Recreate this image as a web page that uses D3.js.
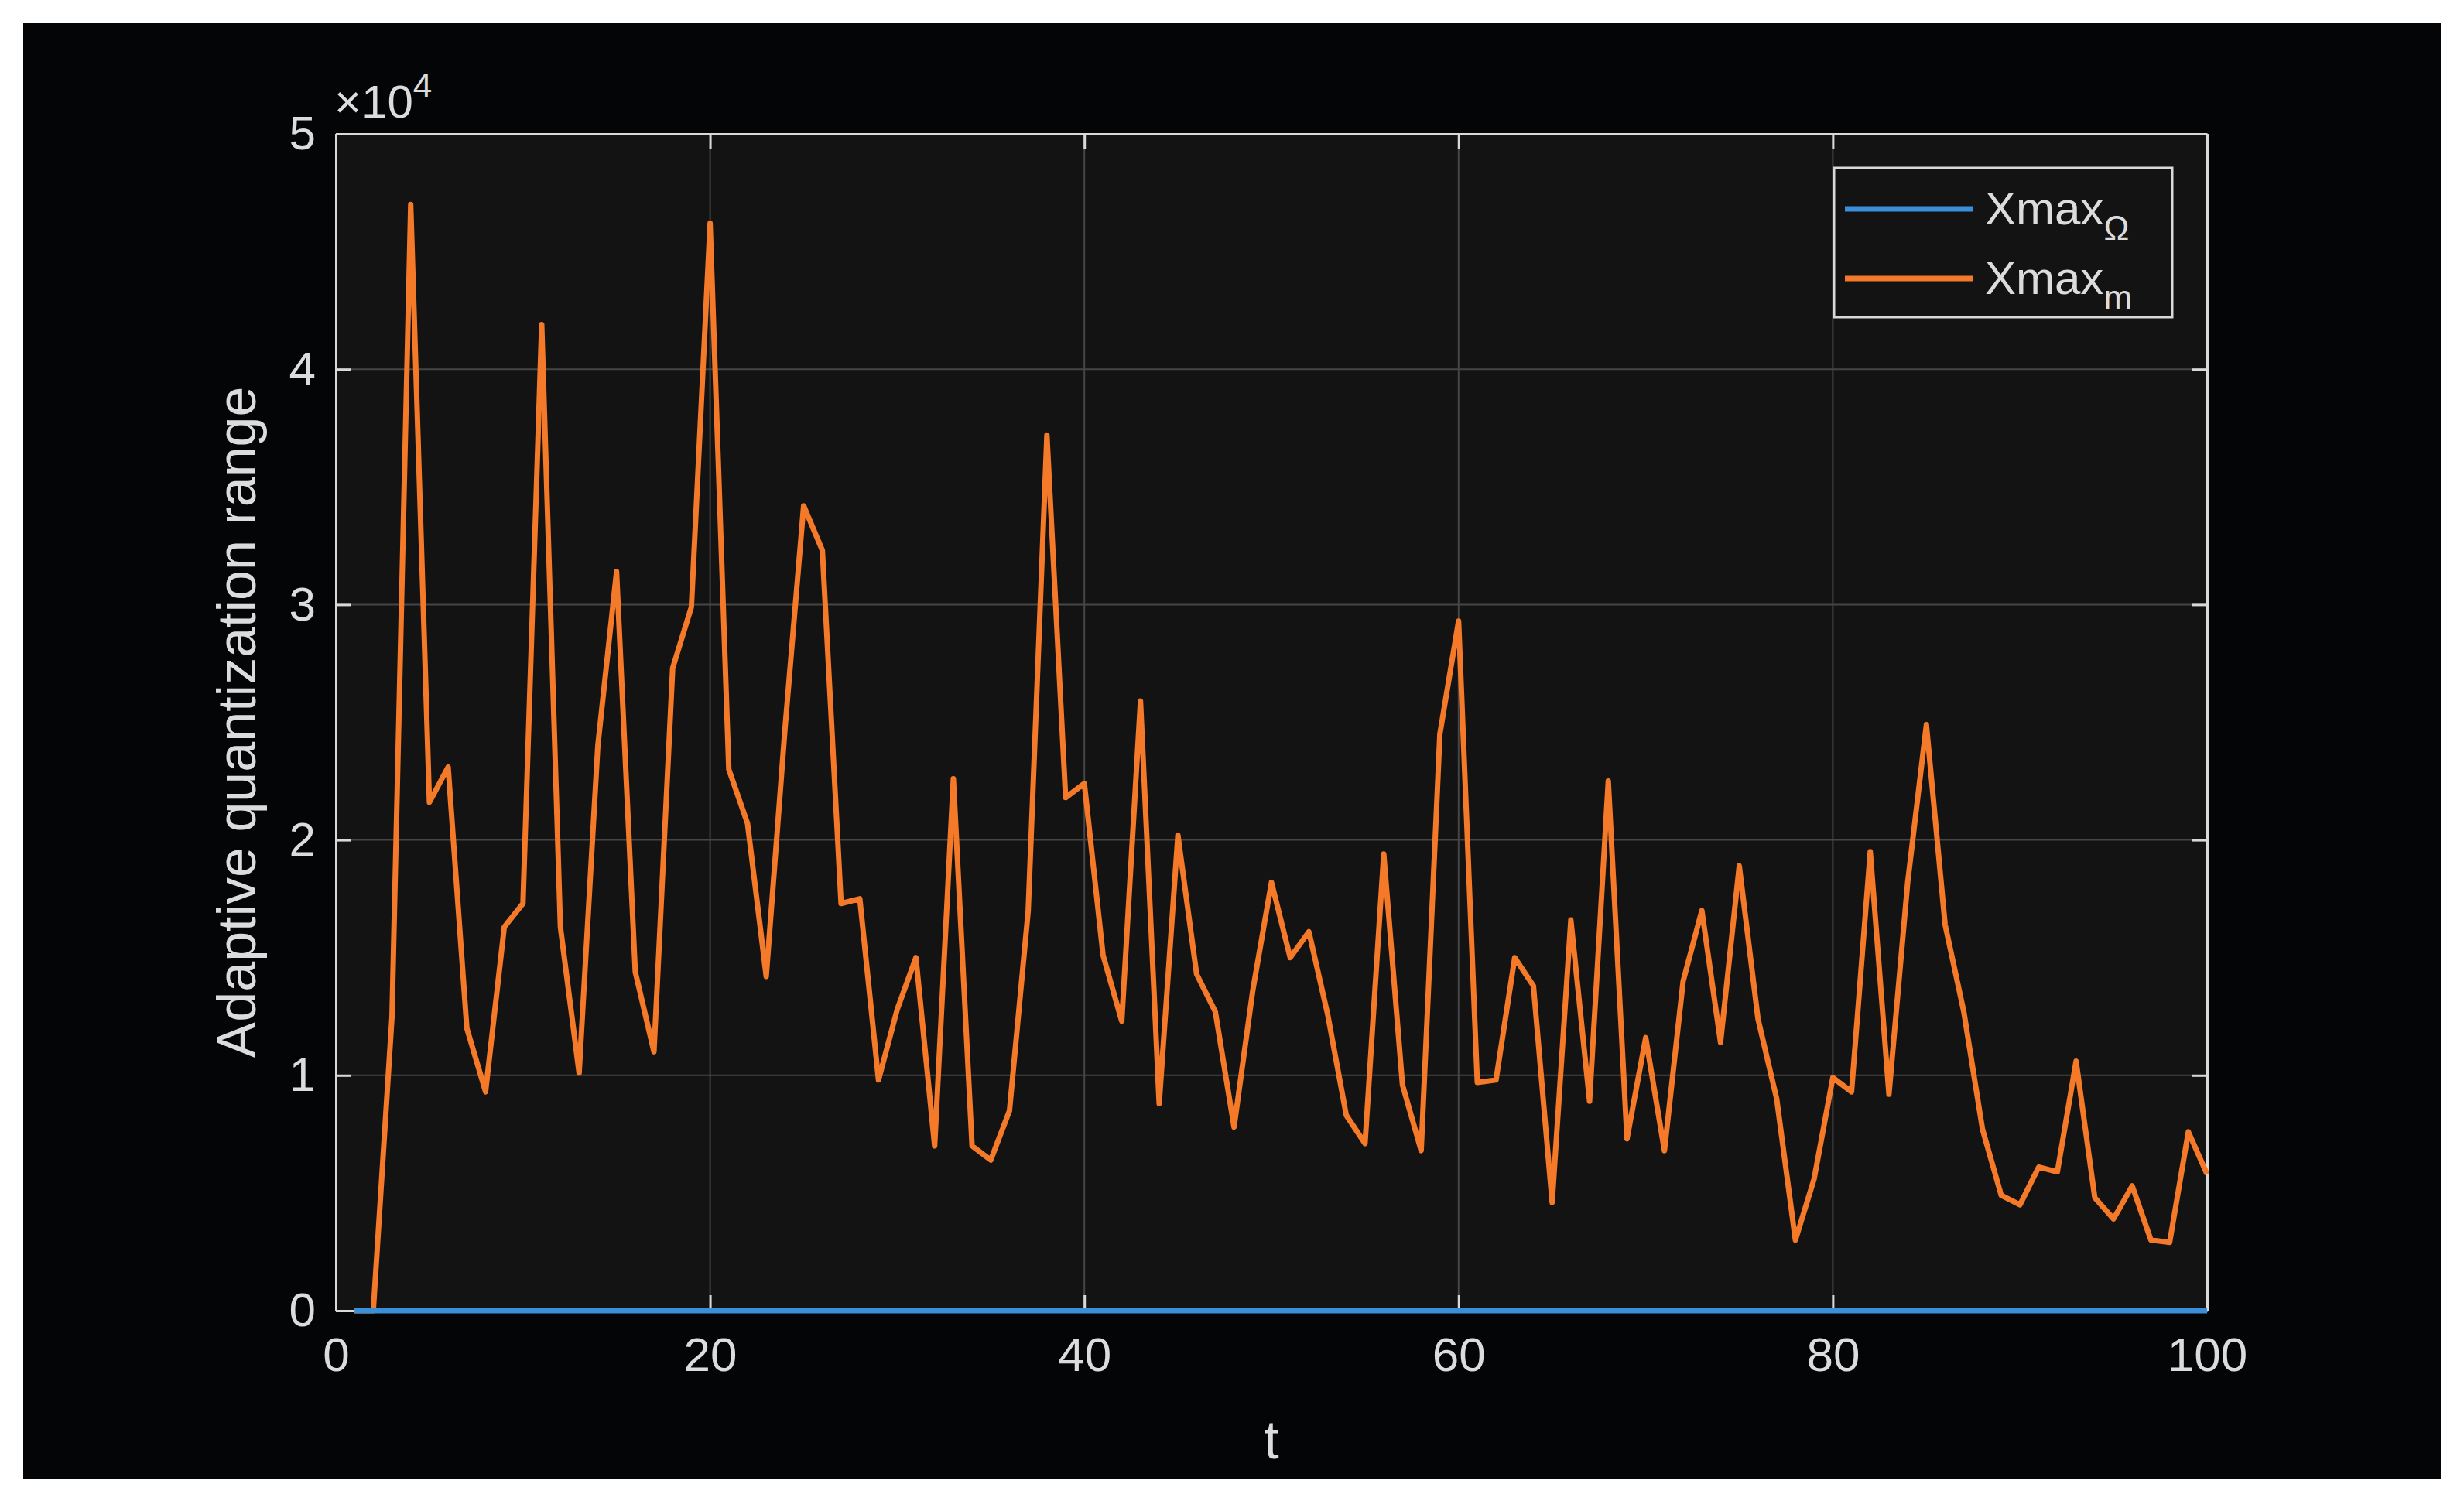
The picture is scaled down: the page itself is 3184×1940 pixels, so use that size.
<!DOCTYPE html>
<html>
<head>
<meta charset="utf-8">
<script src="https://cdn.jsdelivr.net/npm/d3@7"></script>
<style>
  body { margin: 0; background: #ffffff; }
  text { font-family: Arial, "Liberation Sans", sans-serif; fill: #dcdcdc; }
</style>
</head>
<body>
<script>
const tValues = d3.range(1, 101);
const xmaxM = [0, 0, 12500, 47000, 21600, 23100, 12000, 9300, 16300, 17300,
  41900, 16300, 10100, 24000, 31400, 14400, 11000, 27300, 29900, 46200,
  23000, 20700, 14200, 24700, 34200, 32300, 17300, 17500, 9800, 12800,
  15000, 7000, 22600, 7000, 6400, 8500, 17000, 37200, 21800, 22400,
  15100, 12300, 25900, 8800, 20200, 14300, 12700, 7800, 13600, 18200,
  15000, 16100, 12600, 8300, 7100, 19400, 9600, 6800, 24500, 29300,
  9700, 9800, 15000, 13800, 4600, 16600, 8900, 22500, 7300, 11600,
  6800, 14000, 17000, 11400, 18900, 12400, 9000, 3000, 5600, 9900,
  9300, 19500, 9200, 18200, 24900, 16400, 12700, 7700, 4900, 4500,
  6100, 5900, 10600, 4800, 3900, 5300, 3000, 2900, 7600, 5800];
const xmaxOmega = tValues.map(() => 0);
const xTicks = [0, 20, 40, 60, 80, 100];
const yTicks = [0, 1, 2, 3, 4, 5];

const W = 3184, H = 1940;
const m = { left: 434, right: 2852, top: 173, bottom: 1694 };

const svg = d3.select("body").append("svg").attr("width", W).attr("height", H);
svg.append("rect").attr("x", 30).attr("y", 30).attr("width", 3124).attr("height", 1881).attr("fill", "#030507");

const x = d3.scaleLinear().domain([0, 100]).range([m.left, m.right]);
const y = d3.scaleLinear().domain([0, 5e4]).range([m.bottom, m.top]);

svg.append("rect").attr("x", m.left).attr("y", m.top)
  .attr("width", m.right - m.left).attr("height", m.bottom - m.top).attr("fill", "#131313");

// grid
svg.append("g").selectAll("line").data(xTicks.slice(1, -1)).join("line")
  .attr("x1", d => x(d)).attr("x2", d => x(d)).attr("y1", m.top).attr("y2", m.bottom)
  .attr("stroke", "#464646").attr("stroke-width", 2);
svg.append("g").selectAll("line").data(yTicks.slice(1, -1)).join("line")
  .attr("y1", d => y(d * 1e4)).attr("y2", d => y(d * 1e4)).attr("x1", m.left).attr("x2", m.right)
  .attr("stroke", "#464646").attr("stroke-width", 2);

// axes
const xAxis = d3.axisBottom(x).tickValues(xTicks).tickSizeInner(-20).tickSizeOuter(0).tickPadding(34);
const yAxis = d3.axisLeft(y).tickValues(yTicks.map(d => d * 1e4)).tickFormat(d => d / 1e4)
  .tickSizeInner(-20).tickSizeOuter(0).tickPadding(26);
const yAxisR = d3.axisRight(y).tickValues(yTicks.map(d => d * 1e4)).tickFormat("").tickSizeInner(-20).tickSizeOuter(0);
const xAxisT = d3.axisTop(x).tickValues(xTicks).tickFormat("").tickSizeInner(-20).tickSizeOuter(0);

function styleAxis(g) {
  g.select(".domain").attr("stroke", "#d9d9d9").attr("stroke-width", 3);
  g.selectAll(".tick line").attr("stroke", "#d9d9d9").attr("stroke-width", 3);
  g.selectAll(".tick text").attr("fill", "#dcdcdc").style("font-size", "62px")
    .style("font-family", "Arial, 'Liberation Sans', sans-serif");
}
svg.append("g").attr("transform", `translate(0,${m.bottom})`).call(xAxis).call(styleAxis);
svg.append("g").attr("transform", `translate(0,${m.top})`).call(xAxisT).call(styleAxis);
svg.append("g").attr("transform", `translate(${m.left},0)`).call(yAxis).call(styleAxis);
svg.append("g").attr("transform", `translate(${m.right},0)`).call(yAxisR).call(styleAxis);

// lines
const line = d3.line().x((d, i) => x(tValues[i])).y(d => y(d));
svg.append("path").datum(xmaxM).attr("d", line).attr("fill", "none")
  .attr("stroke", "#f47a2a").attr("stroke-width", 7).attr("stroke-linejoin", "round");
svg.append("path").datum(xmaxOmega).attr("d", line).attr("fill", "none")
  .attr("stroke", "#3a8fd8").attr("stroke-width", 7);

// exponent label
const ex = svg.append("text").attr("x", 432).attr("y", 152).style("font-size", "60px");
ex.append("tspan").text("×10");
ex.append("tspan").attr("dy", -26).style("font-size", "44px").text("4");

// axis labels
svg.append("text").attr("x", (m.left + m.right) / 2).attr("y", 1885).attr("text-anchor", "middle")
  .style("font-size", "70px").text("t");
svg.append("text").attr("transform", `translate(330,${(m.top + m.bottom) / 2}) rotate(-90)`)
  .attr("text-anchor", "middle").style("font-size", "70px").text("Adaptive quantization range");

// legend
const lg = svg.append("g").attr("transform", "translate(2370,217)");
lg.append("rect").attr("width", 437).attr("height", 193).attr("fill", "#131313")
  .attr("stroke", "#d9d9d9").attr("stroke-width", 3);
const legendItems = [
  { name: "Xmax", sub: "Ω", color: "#3a8fd8" },
  { name: "Xmax", sub: "m", color: "#f47a2a" }
];
legendItems.forEach((d, i) => {
  const cy = 53 + i * 90;
  lg.append("line").attr("x1", 14).attr("x2", 180).attr("y1", cy).attr("y2", cy)
    .attr("stroke", d.color).attr("stroke-width", 7);
  const t = lg.append("text").attr("x", 195).attr("y", cy + 20).style("font-size", "60px");
  t.append("tspan").text(d.name);
  t.append("tspan").attr("dy", 20).style("font-size", "44px").text(d.sub);
});
</script>
</body>
</html>
